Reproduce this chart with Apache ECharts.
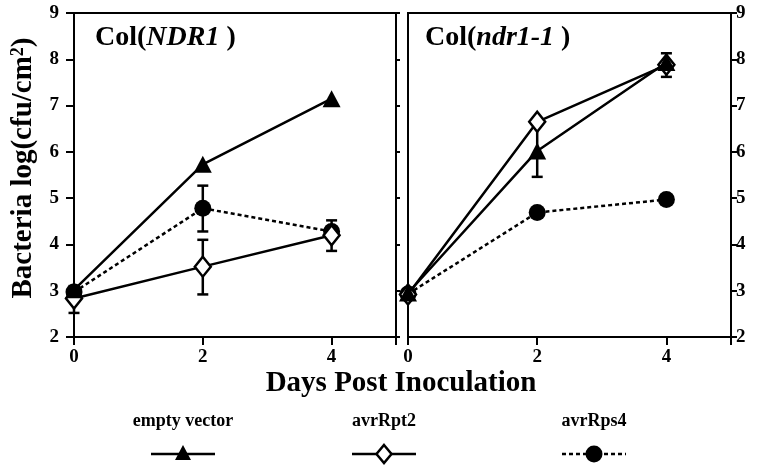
<!DOCTYPE html>
<html>
<head>
<meta charset="utf-8">
<script src="https://cdn.jsdelivr.net/npm/echarts@6/dist/echarts.min.js"></script>
<style>html,body{margin:0;padding:0;background:#fff;}#c{width:759px;height:465px;}</style>
</head>
<body>
<div id="c"></div>
<script>
var days = [0, 2, 4];
var yTicks = [2, 3, 4, 5, 6, 7, 8, 9];
var xTicks = [0, 2, 4];
var seriesNames = ['empty vector', 'avrRpt2', 'avrRps4'];
// Col(NDR1)
var ndr1Empty = [3.02, 5.73, 7.15];
var ndr1Rpt2 = [2.83, 3.52, 4.20];
var ndr1Rps4 = [2.97, 4.78, 4.28];
// Col(ndr1-1)
var ndr11Empty = [2.95, 6.02, 7.93];
var ndr11Rpt2 = [2.92, 6.65, 7.88];
var ndr11Rps4 = [2.93, 4.69, 4.97];
// error bars: [day, low, high]
var ndr1Err = [[0, 2.52, 3.10], [2, 2.92, 4.10], [2, 4.28, 5.27], [4, 3.86, 4.52]];
var ndr11Err = [[2, 5.46, 6.60], [4, 7.62, 8.13]];

var FONT = '"Liberation Serif", "Times New Roman", serif';
function pts(vals) { return days.map(function (d, i) { return [d, vals[i]]; }); }

var chart = echarts.init(document.getElementById('c'));

function errSeries(data, idx) {
  return {
    type: 'custom', xAxisIndex: idx, yAxisIndex: idx * 2, z: 1,
    data: data,
    renderItem: function (params, api) {
      var x = api.value(0), lo = api.value(1), hi = api.value(2);
      var p1 = api.coord([x, lo]), p2 = api.coord([x, hi]);
      var w = 5.5;
      var st = { stroke: '#000', lineWidth: 2.5 };
      return { type: 'group', children: [
        { type: 'line', shape: { x1: p1[0], y1: p1[1], x2: p2[0], y2: p2[1] }, style: st },
        { type: 'line', shape: { x1: p1[0] - w, y1: p1[1], x2: p1[0] + w, y2: p1[1] }, style: st },
        { type: 'line', shape: { x1: p2[0] - w, y1: p2[1], x2: p2[0] + w, y2: p2[1] }, style: st }
      ]};
    }
  };
}

function lineSeries(name, vals, idx, kind) {
  var s = {
    name: name, type: 'line', xAxisIndex: idx, yAxisIndex: idx * 2,
    data: pts(vals), animation: false,
    lineStyle: { color: '#000', width: 2.5, type: kind === 'circle' ? [4, 3] : 'solid' },
    z: 3
  };
  if (kind === 'triangle') { s.symbol = 'triangle'; s.symbolSize = [18, 17]; s.itemStyle = { color: '#000' }; s.z = 4; }
  if (kind === 'diamond') { s.symbol = 'diamond'; s.symbolSize = [16, 20]; s.itemStyle = { color: '#fff', borderColor: '#000', borderWidth: 2.5 }; s.z = 3; }
  if (kind === 'circle') { s.symbol = 'circle'; s.symbolSize = 17; s.itemStyle = { color: '#000' }; s.z = 3; }
  return s;
}

function yAx(grid, pos, showLabel, tickLen) {
  return {
    type: 'value', gridIndex: grid, position: pos, min: 2, max: 9, interval: 1,
    axisLine: { show: true, lineStyle: { color: '#000', width: 2 } },
    axisTick: { show: tickLen > 0, inside: false, length: tickLen, lineStyle: { color: '#000', width: 2 } },
    axisLabel: { show: showLabel, color: '#000', fontFamily: FONT, fontWeight: 'bold', fontSize: 19, margin: pos === 'left' ? 15 : 5 },
    splitLine: { show: false }
  };
}
function xAx(grid) {
  return {
    type: 'value', gridIndex: grid, min: 0, max: 5, interval: 2,
    axisLine: { show: true, onZero: false, lineStyle: { color: '#000', width: 2 } },
    axisTick: { show: true, length: 8, lineStyle: { color: '#000', width: 2 } },
    axisLabel: { color: '#000', fontFamily: FONT, fontWeight: 'bold', fontSize: 19, margin: 11,
      formatter: function (v) { return xTicks.indexOf(v) >= 0 ? String(v) : ''; } },
    splitLine: { show: false }
  };
}

function legendItem(cx, label, kind) {
  var ly = 454;
  var children = [
    { type: 'text', x: cx, y: 421, style: { text: label, font: 'bold 18px ' + FONT, fill: '#000', align: 'center', verticalAlign: 'middle' } },
    { type: 'line', shape: { x1: cx - 32, y1: ly, x2: cx + 32, y2: ly }, style: { stroke: '#000', lineWidth: 2.5, lineDash: kind === 'circle' ? [4, 3] : null } }
  ];
  if (kind === 'triangle') children.push({ type: 'polygon', shape: { points: [[cx, ly - 9], [cx - 8, ly + 6], [cx + 8, ly + 6]] }, style: { fill: '#000' } });
  if (kind === 'diamond') children.push({ type: 'polygon', shape: { points: [[cx, ly - 9], [cx + 7.5, ly], [cx, ly + 9], [cx - 7.5, ly]] }, style: { fill: '#fff', stroke: '#000', lineWidth: 2.5 } });
  if (kind === 'circle') children.push({ type: 'circle', shape: { cx: cx, cy: ly, r: 8.5 }, style: { fill: '#000' } });
  return { type: 'group', children: children };
}

var option = {
  backgroundColor: '#fff',
  animation: false,
  grid: [
    { left: 74, top: 13, width: 322, height: 324, show: true, borderColor: '#000', borderWidth: 2, backgroundColor: 'transparent' },
    { left: 408, top: 13, width: 323, height: 324, show: true, borderColor: '#000', borderWidth: 2, backgroundColor: 'transparent' }
  ],
  xAxis: [xAx(0), xAx(1)],
  yAxis: [yAx(0, 'left', true, 8), yAx(0, 'right', false, 4), yAx(1, 'left', false, 0), yAx(1, 'right', true, 6)],
  series: [
    errSeries(ndr1Err, 0),
    lineSeries(seriesNames[2], ndr1Rps4, 0, 'circle'),
    lineSeries(seriesNames[1], ndr1Rpt2, 0, 'diamond'),
    lineSeries(seriesNames[0], ndr1Empty, 0, 'triangle'),
    errSeries(ndr11Err, 1),
    lineSeries(seriesNames[2], ndr11Rps4, 1, 'circle'),
    lineSeries(seriesNames[1], ndr11Rpt2, 1, 'diamond'),
    lineSeries(seriesNames[0], ndr11Empty, 1, 'triangle')
  ],
  graphic: [
    { type: 'text', x: 95, y: 38, style: { text: '{a|Col(}{b|NDR1}{a| )}', verticalAlign: 'middle', rich: {
      a: { font: 'bold 28px ' + FONT, fill: '#000' }, b: { font: 'italic bold 28px ' + FONT, fill: '#000' } } } },
    { type: 'text', x: 425, y: 38, style: { text: '{a|Col(}{b|ndr1-1}{a| )}', verticalAlign: 'middle', rich: {
      a: { font: 'bold 28px ' + FONT, fill: '#000' }, b: { font: 'italic bold 28px ' + FONT, fill: '#000' } } } },
    { type: 'text', x: 24, y: 168, rotation: Math.PI / 2, style: { text: '{a|Bacteria log(cfu/cm}{s|2}{a|)}', align: 'center', verticalAlign: 'middle', rich: {
      a: { font: 'bold 29px ' + FONT, fill: '#000' }, s: { font: 'bold 18px ' + FONT, fill: '#000', verticalAlign: 'top', padding: [0, 0, 12, 0] } } } },
    { type: 'text', x: 401, y: 384, style: { text: 'Days Post Inoculation', font: 'bold 29px ' + FONT, fill: '#000', align: 'center', verticalAlign: 'middle' } },
    legendItem(183, seriesNames[0], 'triangle'),
    legendItem(384, seriesNames[1], 'diamond'),
    legendItem(594, seriesNames[2], 'circle')
  ]
};
chart.setOption(option);
</script>
</body>
</html>
